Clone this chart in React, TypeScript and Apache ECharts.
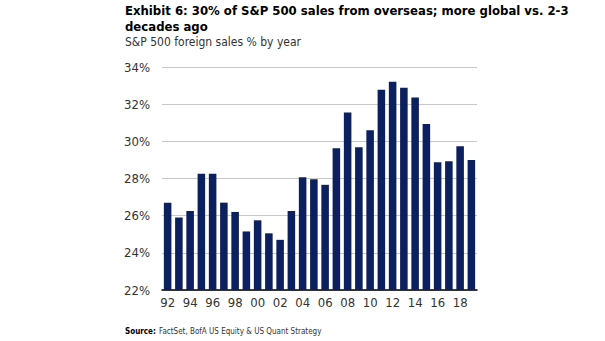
import React, { useEffect, useRef } from "react";
import * as echarts from "echarts";

const years = ["92","93","94","95","96","97","98","99","00","01","02","03","04","05","06","07","08","09","10","11","12","13","14","15","16","17","18","19"];
const foreignSales = [26.7,25.9,26.25,28.25,28.25,26.7,26.2,25.15,25.75,25.05,24.7,26.25,28.07,27.96,27.66,29.63,31.55,29.68,30.6,32.77,33.21,32.88,32.36,30.93,28.88,28.93,29.73,29.0];

const titleLine1 = "Exhibit 6: 30% of S&P 500 sales from overseas; more global vs. 2-3";
const titleLine2 = "decades ago";
const subtitle = "S&P 500 foreign sales % by year";
const sourceLabel = "Source:";
const sourceText = "FactSet, BofA US Equity & US Quant Strategy";

const FONT = "'Liberation Sans Narrow', 'DejaVu Sans Condensed', 'Roboto', sans-serif";

export default function App() {
  const ref = useRef<HTMLDivElement>(null);
  useEffect(() => {
    if (!ref.current) return;
    const chart = echarts.init(ref.current, undefined, { renderer: "svg" });
    chart.setOption({
      animation: false,
      backgroundColor: "#ffffff",
      grid: { left: 162, right: 128, top: 67, bottom: 51 },
      xAxis: {
        type: "category",
        data: years,
        axisTick: { show: false },
        axisLine: { lineStyle: { color: "#000000", width: 1.5 } },
        axisLabel: { interval: 1, color: "#333333", fontSize: 13, fontFamily: FONT, margin: 6 },
      },
      yAxis: {
        type: "value",
        min: 22,
        max: 34,
        interval: 2,
        axisLine: { show: false },
        axisTick: { show: false },
        splitLine: { lineStyle: { color: "#c8c8c8", width: 1 } },
        axisLabel: { formatter: "{value}%", color: "#333333", fontSize: 13, fontFamily: FONT, margin: 12 },
      },
      series: [
        {
          type: "bar",
          data: foreignSales,
          barCategoryGap: "33%",
          itemStyle: { color: "#0c1f5e" },
        },
      ],
      graphic: [
        { type: "text", left: 125, top: 4, style: { text: titleLine1, font: `bold 13px ${FONT}`, fill: "#000000" } },
        { type: "text", left: 125, top: 20, style: { text: titleLine2, font: `bold 13px ${FONT}`, fill: "#000000" } },
        { type: "text", left: 125, top: 36, style: { text: subtitle, font: `12px ${FONT}`, fill: "#333333" } },
        { type: "text", left: 125, top: 327, style: { text: sourceLabel, font: `bold 8px ${FONT}`, fill: "#000000" } },
        { type: "text", left: 159, top: 327, style: { text: sourceText, font: `8px ${FONT}`, fill: "#333333" } },
      ],
    });
    return () => chart.dispose();
  }, []);
  return <div ref={ref} style={{ width: 605, height: 341, position: "absolute", left: 0, top: 0 }} />;
}
